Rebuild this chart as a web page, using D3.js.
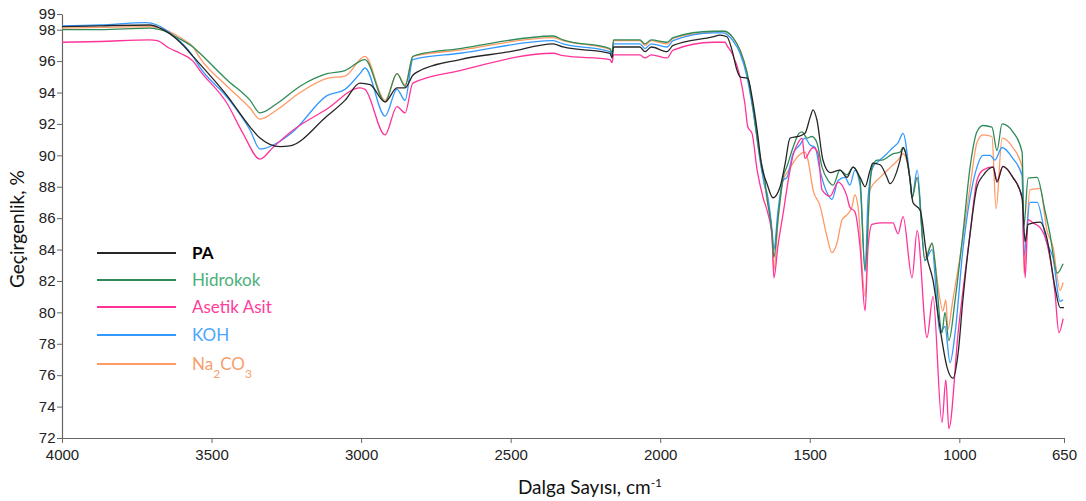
<!DOCTYPE html>
<html>
<head>
<meta charset="utf-8">
<script src="https://cdn.jsdelivr.net/npm/d3@7"></script>
<style>
  body { margin: 0; background: #fff; }
  svg { display: block; }
</style>
</head>
<body>
<div id="chart"></div>
<script>
// FTIR spektrumlari: [dalga sayisi, gecirgenlik %]
const xTicks = [4000, 3500, 3000, 2500, 2000, 1500, 1000, 650];
const yTicks = [72, 74, 76, 78, 80, 82, 84, 86, 88, 90, 92, 94, 96, 98, 99];

const seriesNames = ["PA", "Hidrokok", "Asetik Asit", "KOH", "Na2CO3"];

const paData = [[4000,98.2],[3873,98.25],[3706,98.3],[3672,98.1],[3605,97.2],[3562,96.3],[3448,93.8],[3371,91.8],[3338,91.1],[3271,90.55],[3238,90.6],[3114,92.5],[3054,93.5],[3004,94.6],[2970,94.5],[2920,93.4],[2880,94.3],[2853,94.3],[2827,95.1],[2813,95.3],[2669,96.1],[2502,96.6],[2358,97.1],[2325,96.9],[2168,96.5],[2161,96.2],[2156,96.9],[2068,96.9],[2051,96.6],[2030,96.9],[1977,96.6],[1957,97.0],[1824,97.55],[1800,97.66],[1777,97.55],[1760,96.7],[1743,95.4],[1733,95.0],[1707,94.9],[1693,93.7],[1676,91.6],[1660,89.25],[1643,88.2],[1623,87.3],[1599,88.0],[1582,89.5],[1566,91.1],[1539,91.2],[1516,91.4],[1499,92.4],[1489,92.9],[1476,92.25],[1456,89.7],[1432,88.9],[1399,89.06],[1376,88.6],[1355,89.25],[1332,88.6],[1315,88.0],[1299,89.0],[1289,89.5],[1265,89.4],[1242,88.6],[1232,88.2],[1198,89.7],[1188,90.5],[1182,90.3],[1165,88.5],[1155,87.0],[1131,86.5],[1108,83.5],[1088,82.06],[1065,79.06],[1041,76.5],[1021,75.8],[1004,77.4],[988,80.8],[964,85.0],[941,88.0],[921,88.7],[887,89.25],[874,88.3],[854,89.3],[821,88.6],[790,87.3],[780,84.5],[770,85.6],[730,85.75],[707,84.7],[680,81.6],[663,80.3],[650,80.3]];

const hidrokokData = [[4000,98.0],[3873,98.0],[3706,98.1],[3672,98.0],[3605,97.4],[3562,96.9],[3539,96.5],[3448,94.8],[3371,93.5],[3338,92.7],[3281,93.3],[3204,94.4],[3114,95.2],[3054,95.4],[2987,96.1],[2920,93.4],[2880,95.2],[2853,94.4],[2827,96.3],[2813,96.4],[2669,96.8],[2358,97.6],[2325,97.35],[2168,96.8],[2161,96.5],[2156,97.35],[2068,97.35],[2051,97.1],[2030,97.35],[1977,97.2],[1957,97.5],[1824,97.9],[1783,97.9],[1757,97.5],[1733,96.7],[1710,95.3],[1690,93.1],[1666,89.9],[1650,88.4],[1643,87.3],[1626,85.0],[1620,83.5],[1606,86.0],[1589,88.6],[1576,89.3],[1556,90.5],[1536,91.4],[1526,91.5],[1509,91.1],[1493,91.2],[1476,90.8],[1459,89.25],[1439,88.4],[1422,88.1],[1399,89.06],[1376,88.75],[1355,89.25],[1332,88.4],[1315,82.7],[1299,88.0],[1292,89.25],[1275,89.7],[1259,89.7],[1222,90.1],[1198,90.2],[1188,90.5],[1165,88.5],[1158,87.3],[1141,88.6],[1115,83.3],[1091,84.4],[1081,83.1],[1058,78.7],[1048,80.0],[1035,78.2],[1014,80.8],[988,85.0],[964,89.25],[941,91.5],[921,91.9],[891,91.8],[874,90.3],[857,92.0],[821,91.5],[790,90.2],[784,85.5],[770,88.55],[740,88.6],[714,86.5],[697,85.0],[673,82.5],[653,83.1]];

const asetikData = [[4000,97.2],[3873,97.25],[3706,97.35],[3682,97.3],[3639,96.8],[3605,96.5],[3562,96.0],[3539,95.4],[3448,93.3],[3395,91.4],[3338,89.76],[3295,90.5],[3228,91.6],[3114,92.95],[3004,94.3],[2987,94.2],[2920,91.3],[2880,93.1],[2853,92.7],[2827,94.6],[2669,95.4],[2358,96.5],[2325,96.35],[2168,96.1],[2161,95.9],[2156,96.4],[2068,96.4],[2051,96.2],[2030,96.4],[1977,96.2],[1957,96.7],[1824,97.2],[1783,97.2],[1777,97.0],[1760,96.5],[1733,95.0],[1717,93.3],[1707,91.8],[1693,91.4],[1676,89.06],[1656,87.3],[1640,86.3],[1626,84.8],[1620,82.2],[1606,84.3],[1589,86.3],[1572,88.4],[1556,90.0],[1539,90.8],[1526,91.1],[1516,89.8],[1499,90.3],[1489,90.5],[1472,90.1],[1459,87.8],[1432,87.4],[1405,88.3],[1389,88.0],[1376,87.4],[1366,86.7],[1349,86.4],[1332,84.2],[1315,80.1],[1305,84.2],[1292,85.6],[1265,85.7],[1222,85.7],[1205,85.0],[1188,86.1],[1158,82.2],[1141,85.2],[1108,78.4],[1088,81.0],[1058,73.0],[1045,75.7],[1035,72.6],[1004,78.7],[964,85.0],[941,88.4],[921,89.06],[887,89.26],[874,88.4],[854,89.3],[821,88.6],[790,87.3],[780,82.2],[770,85.9],[754,85.7],[730,85.4],[707,84.4],[680,81.2],[667,78.7],[653,79.6]];

const kohData = [[4000,98.25],[3873,98.3],[3720,98.45],[3682,98.3],[3639,97.8],[3562,96.3],[3539,95.6],[3448,93.7],[3371,91.6],[3338,90.4],[3271,90.9],[3228,91.5],[3114,93.8],[3054,94.2],[3004,95.2],[2987,95.56],[2920,92.5],[2880,94.2],[2853,93.5],[2827,96.1],[2669,96.5],[2358,97.3],[2325,97.1],[2168,96.6],[2161,96.3],[2156,97.1],[2068,97.1],[2051,96.8],[2030,97.1],[1977,96.9],[1957,97.3],[1824,97.8],[1790,97.8],[1757,97.3],[1733,96.5],[1710,95.0],[1690,92.9],[1666,89.7],[1650,88.0],[1643,87.6],[1626,85.2],[1620,84.0],[1606,86.5],[1589,88.4],[1576,88.6],[1556,90.1],[1533,90.66],[1516,91.1],[1499,90.66],[1482,90.5],[1466,89.06],[1442,87.6],[1426,87.2],[1405,88.4],[1382,88.6],[1366,88.1],[1349,89.06],[1332,88.1],[1315,82.6],[1305,87.3],[1289,89.25],[1265,89.7],[1242,90.1],[1222,90.5],[1205,90.8],[1188,91.4],[1165,88.5],[1158,87.3],[1141,89.06],[1115,83.3],[1091,84.0],[1065,78.7],[1048,79.1],[1031,76.8],[1014,78.7],[988,84.0],[964,87.3],[941,89.25],[921,90.0],[897,90.0],[881,89.7],[857,90.5],[821,89.8],[790,88.7],[784,83.6],[764,87.0],[740,87.0],[707,84.4],[687,83.5],[663,80.7],[653,80.8]];

const na2co3Data = [[4000,98.1],[3873,98.15],[3706,98.2],[3672,98.1],[3605,97.5],[3562,96.9],[3539,96.2],[3448,94.4],[3371,93.0],[3338,92.3],[3281,92.9],[3204,94.0],[3114,94.9],[3054,95.05],[2987,96.3],[2920,93.5],[2880,95.2],[2853,94.5],[2827,96.3],[2669,96.7],[2358,97.5],[2325,97.3],[2168,96.75],[2161,96.45],[2156,97.3],[2068,97.3],[2051,97.0],[2030,97.3],[1977,97.1],[1957,97.45],[1824,97.85],[1790,97.9],[1757,97.5],[1733,96.7],[1710,95.3],[1690,93.0],[1666,89.7],[1650,88.0],[1643,87.2],[1626,84.8],[1620,82.7],[1606,85.8],[1589,88.4],[1576,88.9],[1556,89.5],[1536,90.0],[1516,90.2],[1506,89.7],[1489,87.8],[1466,86.8],[1442,84.8],[1426,83.8],[1409,84.4],[1392,85.9],[1376,86.2],[1359,86.7],[1349,87.5],[1339,86.8],[1315,81.0],[1299,87.8],[1265,88.6],[1232,89.2],[1205,89.7],[1188,90.1],[1165,88.5],[1158,87.3],[1141,88.6],[1115,83.5],[1091,84.4],[1075,82.2],[1055,80.1],[1045,80.8],[1038,78.9],[1024,80.5],[998,83.5],[964,88.0],[941,90.8],[921,91.3],[891,91.2],[877,86.6],[857,91.1],[821,90.5],[790,89.25],[784,82.5],[764,87.8],[730,87.9],[707,85.2],[687,84.2],[663,81.4],[653,81.9]];

const lineColors = ["#262626", "#2e8b57", "#ff3399", "#3399ff", "#ff9966"];
const textColors = ["#000000", "#4caf7a", "#ff3d9a", "#4da6ff", "#f4a070"];

const width = 1086, height = 501;

const svg = d3.select("#chart").append("svg")
  .attr("width", width)
  .attr("height", height)
  .attr("viewBox", [0, 0, width, height]);

const x = d3.scaleLinear().domain([4000, 650]).range([62, 1064]);
const y = d3.scaleLinear().domain([72, 99]).range([438, 14]);

// eksenler
const xAxis = svg.append("g")
  .attr("transform", `translate(0,${y(72)})`)
  .call(d3.axisBottom(x).tickValues(xTicks).tickSize(5).tickSizeOuter(0).tickFormat(d3.format("d")));

const yAxis = svg.append("g")
  .attr("transform", `translate(${x(4000)},0)`)
  .call(d3.axisLeft(y).tickValues(yTicks).tickSize(5).tickSizeOuter(0).tickFormat(d3.format("d")));

[xAxis, yAxis].forEach(g => {
  g.select(".domain").attr("stroke", "#666").attr("stroke-width", 1.2);
  g.selectAll(".tick line").attr("stroke", "#666");
  g.selectAll(".tick text")
    .attr("fill", "#222")
    .attr("font-family", "Liberation Sans, Arial, sans-serif")
    .attr("font-size", "15px");
});
xAxis.selectAll(".tick text").attr("dy", "0.95em");
yAxis.selectAll(".tick text").attr("dx", "0.1em");

// eksen basliklari
const xTitle = svg.append("text")
  .attr("x", 590)
  .attr("y", 494)
  .attr("text-anchor", "middle")
  .attr("font-family", "Lato, sans-serif")
  .attr("font-size", "19px")
  .attr("fill", "#111");
xTitle.append("tspan").text("Dalga Sayısı, cm");
xTitle.append("tspan").attr("baseline-shift", "super").attr("font-size", "12px").text("-1");

svg.append("text")
  .attr("transform", `translate(24,${y(85.3)}) rotate(-90)`)
  .attr("text-anchor", "middle")
  .attr("font-family", "Lato, sans-serif")
  .attr("font-size", "19px")
  .attr("fill", "#111")
  .text("Geçirgenlik, %");

// spektrum cizgileri
const line = d3.line()
  .x(d => x(d[0]))
  .y(d => y(d[1]))
  .curve(d3.curveMonotoneX);

const allData = [paData, hidrokokData, asetikData, kohData, na2co3Data];
const drawOrder = [4, 3, 2, 1, 0];

svg.append("g")
  .attr("fill", "none")
  .attr("stroke-width", 1.3)
  .attr("stroke-linejoin", "round")
  .selectAll("path")
  .data(drawOrder)
  .join("path")
  .attr("stroke", i => lineColors[i])
  .attr("d", i => line(allData[i]));

// lejant
const legendY = [253, 280, 307, 335, 364];
const legend = svg.append("g");

legend.selectAll("line")
  .data(seriesNames)
  .join("line")
  .attr("x1", 97)
  .attr("x2", 176)
  .attr("y1", (d, i) => legendY[i])
  .attr("y2", (d, i) => legendY[i])
  .attr("stroke", (d, i) => lineColors[i])
  .attr("stroke-width", 2);

const labels = legend.selectAll("text")
  .data(seriesNames)
  .join("text")
  .attr("x", 192)
  .attr("y", (d, i) => legendY[i] + 6)
  .attr("font-family", "Lato, sans-serif")
  .attr("font-size", "17px")
  .attr("font-weight", (d, i) => i === 0 ? "bold" : "normal")
  .attr("fill", (d, i) => textColors[i]);

labels.each(function(d) {
  const t = d3.select(this);
  if (d === "Na2CO3") {
    t.append("tspan").text("Na");
    t.append("tspan").attr("baseline-shift", "sub").attr("font-size", "12px").text("2");
    t.append("tspan").text("CO");
    t.append("tspan").attr("baseline-shift", "sub").attr("font-size", "12px").text("3");
  } else {
    t.text(d);
  }
});
</script>
</body>
</html>
